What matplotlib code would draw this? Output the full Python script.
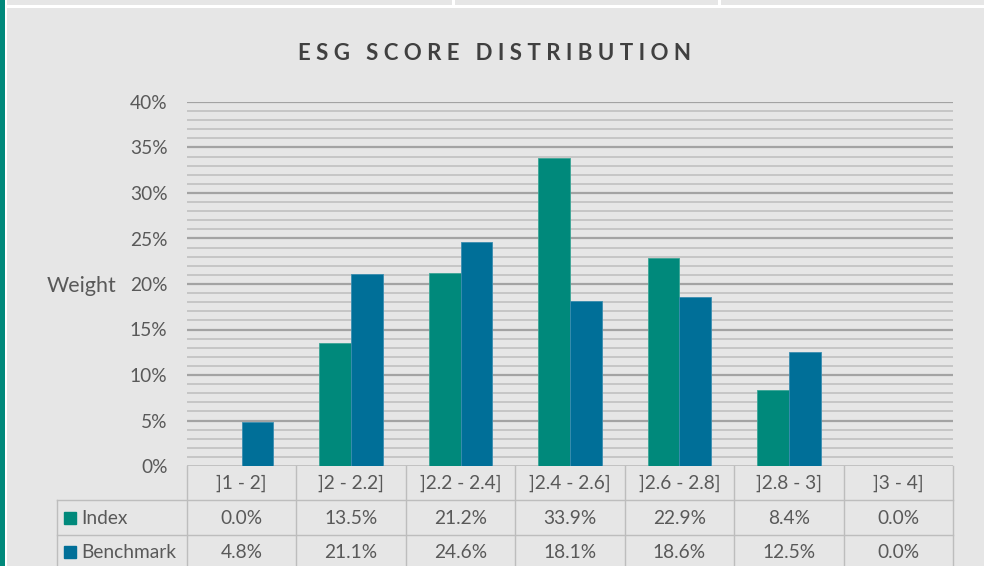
import numpy as np
import matplotlib.pyplot as plt
from matplotlib.patches import Rectangle
from matplotlib.transforms import blended_transform_factory

plt.rcParams['font.family'] = ['Lato', 'DejaVu Sans']

categories = [']1 - 2]', ']2 - 2.2]', ']2.2 - 2.4]', ']2.4 - 2.6]', ']2.6 - 2.8]', ']2.8 - 3]', ']3 - 4]']
index_w = [0.0, 13.5, 21.2, 33.9, 22.9, 8.4, 0.0]
bench_w = [4.8, 21.1, 24.6, 18.1, 18.6, 12.5, 0.0]
series = ['Index', 'Benchmark']

c_index = '#00897b'
c_bench = '#006f98'
bg = '#e6e6e6'
txt = '#595959'
W, H = 984, 566
fs = 13.8

fig = plt.figure(figsize=(W / 100, H / 100), dpi=100, facecolor=bg)

# page decorations (frame strip + white separators)
def px_rect(x0, y0, w, h, color):
    fig.add_artist(Rectangle((x0 / W, 1 - (y0 + h) / H), w / W, h / H,
                             transform=fig.transFigure, color=color, lw=0, zorder=0))

px_rect(0, 0, 4.5, H, c_index)
px_rect(4.5, 0, 2.5, H, 'white')
px_rect(7, 5, W, 3, 'white')
px_rect(452, 0, 2.5, 5, 'white')
px_rect(718, 0, 2.5, 5, 'white')

ax = fig.add_axes([187 / W, 100 / H, 766 / W, 364 / H])
ax.set_facecolor(bg)
x = np.arange(len(categories))
bw = 0.29
ax.bar(x - bw / 2, np.array(index_w) / 100, bw, color=c_index, edgecolor='#3aa595', lw=0.6, zorder=3)
ax.bar(x + bw / 2, np.array(bench_w) / 100, bw, color=c_bench, edgecolor='#3a8db0', lw=0.6, zorder=3)

ax.set_xlim(-0.5, len(categories) - 0.5)
ax.set_ylim(0, 0.40)
for v in np.arange(0.01, 0.401, 0.01):
    major = abs(v * 20 - round(v * 20)) < 1e-6
    ax.axhline(v, color='#a3a3a3' if major else '#c3c3c3', lw=1.6 if major else 1.3, zorder=1)
ax.axhline(0, color='#bfbfbf', lw=1.3, zorder=1)

ax.set_yticks(np.arange(0, 0.41, 0.05))
ax.set_yticklabels([f'{int(round(v * 100))}%' for v in np.arange(0, 0.41, 0.05)])
ax.tick_params(axis='y', length=0, pad=14, labelsize=fs, labelcolor=txt)
ax.set_xticks([])
for s in ax.spines.values():
    s.set_visible(False)

fig.text(82 / W, 1 - 286 / H, 'Weight', ha='center', va='center', fontsize=15.5, color=txt)
fig.text(494 / W, 1 - 53 / H, 'E S G   S C O R E   D I S T R I B U T I O N', ha='center', va='center',
         fontsize=16, fontweight='bold', color='#404040')

# data table below the plot
tr = blended_transform_factory(ax.transData, ax.transAxes)
line_c = '#bdbdbd'
y_rows = [0, -34 / 364, -69 / 364, -110 / 364]
left = -0.5 - 130 / 766 * 7
for i in range(len(categories) + 1):
    ax.plot([i - 0.5, i - 0.5], [0, y_rows[-1]], color=line_c, lw=1, transform=tr, clip_on=False)
ax.plot([left, left], [y_rows[1], y_rows[-1]], color=line_c, lw=1, transform=tr, clip_on=False)
for yy in y_rows[1:3]:
    ax.plot([left, len(categories) - 0.5], [yy, yy], color=line_c, lw=1, transform=tr, clip_on=False)

for i, c in enumerate(categories):
    ax.text(i, -17 / 364, c, ha='center', va='center', fontsize=fs, color=txt, transform=tr)
for r, (name, vals, col) in enumerate(zip(series, [index_w, bench_w], [c_index, c_bench])):
    yc = -52 / 364 if r == 0 else -86 / 364
    for i, v in enumerate(vals):
        ax.text(i, yc, f'{v:.1f}%', ha='center', va='center', fontsize=fs, color=txt, transform=tr)
    sq_x = left + 7 / 766 * 7
    ax.add_artist(Rectangle((sq_x, yc - 6 / 364), 12 / 766 * 7, 12 / 364, transform=tr,
                            color=col, clip_on=False))
    ax.text(left + 24 / 766 * 7, yc, name, ha='left', va='center', fontsize=fs, color=txt, transform=tr)

fig.savefig('out.png', dpi=100, facecolor=bg)
